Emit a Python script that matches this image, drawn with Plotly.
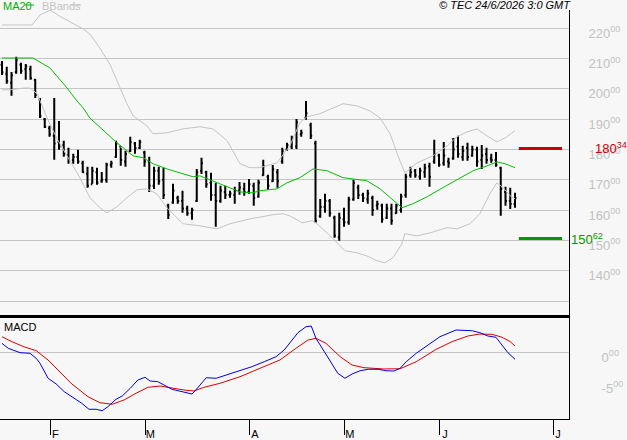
import plotly.graph_objects as go

# ---------------- data ----------------
opens = [208.0, 205.0, 202.0, 205.5, 208.0, 206.5, 206.5, 203.0, 196.5, 190.0,
         187.0, 184.5, 182.5, 181.5, 178.0, 176.5, 177.5, 175.5, 172.0, 168.5,
         172.5, 169.5, 170.0, 175.0, 177.5, 181.0, 176.0, 179.5, 182.0, 180.5,
         179.0, 176.0, 168.0, 173.0, 170.0, 161.5, 162.5, 164.0, 163.0, 160.5,
         159.0, 163.0, 173.0, 172.5, 169.0, 165.0, 163.0, 166.0, 165.0, 165.0,
         166.5, 167.0, 166.0, 168.0, 164.5, 171.5, 171.0, 169.5, 172.5, 176.0,
         180.0, 181.0, 181.0, 185.0, 190.5, 188.0, 182.0, 158.0, 161.0, 163.0,
         157.5, 151.0, 157.0, 156.0, 163.5, 167.5, 165.0, 163.5, 164.0, 161.5,
         161.5, 157.5, 160.5, 159.0, 160.0, 165.0, 171.5, 173.0, 171.0, 172.5,
         174.5, 176.0, 178.0, 175.5, 176.0, 177.0, 181.0, 177.5, 180.5, 178.0,
         180.0, 176.5, 178.5, 177.0, 176.5, 174.0, 166.0, 163.0, 162.0]
highs = [209.2, 207.3, 205.6, 210.6, 208.6, 208.2, 207.6, 203.3, 197.0, 190.4,
         187.8, 197.0, 189.4, 182.9, 180.6, 178.6, 179.9, 176.3, 174.3, 174.3,
         174.0, 172.6, 175.6, 176.3, 182.9, 180.6, 179.6, 184.2, 182.5, 183.2,
         179.6, 177.6, 174.3, 174.3, 174.0, 162.1, 168.7, 164.7, 166.4, 161.4,
         160.8, 173.6, 177.3, 173.0, 172.3, 169.0, 168.0, 168.0, 166.4, 167.7,
         169.3, 169.0, 170.3, 169.0, 170.0, 176.6, 171.7, 174.9, 173.6, 180.6,
         182.2, 184.5, 190.1, 186.5, 196.0, 188.8, 182.9, 163.7, 165.4, 163.7,
         158.1, 159.1, 160.8, 164.4, 170.0, 168.4, 165.7, 166.7, 164.7, 163.1,
         162.1, 162.1, 162.1, 162.1, 165.4, 172.0, 174.3, 173.6, 174.0, 175.3,
         175.6, 183.2, 178.6, 182.5, 177.3, 183.8, 184.5, 181.2, 182.2, 181.2,
         180.9, 181.5, 180.6, 178.6, 179.2, 174.3, 167.7, 167.4, 165.7]
lows = [204.6, 201.7, 197.7, 205.0, 205.0, 203.0, 203.0, 197.0, 190.4, 187.1,
        184.2, 176.6, 179.9, 177.6, 175.3, 175.3, 175.3, 172.3, 167.4, 168.7,
        168.4, 169.0, 169.0, 174.0, 177.3, 174.6, 174.3, 179.2, 178.6, 180.2,
        174.3, 166.0, 167.0, 168.4, 163.7, 157.1, 162.1, 162.1, 159.1, 158.1,
        156.8, 162.7, 171.9, 167.4, 163.1, 154.5, 162.4, 163.7, 164.1, 162.1,
        165.1, 164.7, 165.4, 161.4, 164.1, 171.3, 166.7, 169.3, 167.4, 175.3,
        179.6, 180.2, 180.2, 184.2, 189.8, 183.5, 155.8, 157.5, 159.1, 157.8,
        150.9, 149.9, 154.5, 155.2, 163.1, 163.7, 162.7, 162.1, 158.1, 160.1,
        155.8, 157.1, 155.2, 158.8, 159.1, 164.1, 170.7, 170.7, 170.0, 170.7,
        167.7, 175.3, 174.3, 174.6, 174.0, 176.6, 177.3, 176.3, 176.3, 177.6,
        174.3, 173.6, 175.3, 175.6, 174.3, 158.1, 161.4, 160.4, 160.8]
closes = [205.5, 202.5, 204.5, 209.5, 206.0, 207.5, 203.5, 198.0, 191.0, 187.5,
          185.0, 182.0, 181.0, 178.5, 176.5, 177.5, 176.0, 172.5, 168.0, 173.0,
          169.0, 170.0, 175.0, 175.5, 182.0, 176.5, 178.5, 182.5, 180.5, 182.5,
          176.0, 168.0, 173.0, 169.5, 165.0, 158.5, 166.5, 163.0, 160.5, 159.0,
          160.0, 172.5, 175.5, 168.5, 165.0, 163.0, 166.5, 165.0, 165.5, 166.5,
          167.5, 166.0, 168.5, 164.0, 169.0, 174.5, 168.0, 173.5, 169.5, 179.5,
          181.5, 183.5, 189.0, 185.5, 192.0, 184.5, 156.5, 161.0, 163.0, 159.0,
          151.5, 157.5, 156.0, 163.5, 169.0, 165.0, 164.0, 165.5, 160.0, 162.0,
          157.0, 160.5, 156.5, 161.5, 164.5, 171.0, 172.5, 171.5, 173.0, 174.0,
          171.0, 178.5, 175.0, 178.0, 175.5, 180.0, 178.5, 179.5, 177.5, 180.0,
          176.0, 178.0, 176.5, 176.5, 175.0, 167.0, 163.0, 162.0, 164.0]
bar_idx = list(range(len(opens)))

# month starts on the trading-day axis
month_pos = [10.2, 30.2, 52.2, 72.2, 92.2, 116.0]
month_labels = ["F", "M", "A", "M", "J", "J"]

# MA20 (read at trading-day positions)
ma20_x = [0, 6.5, 10.1, 13.7, 15.8, 17.1, 18.5, 22.7, 24.2, 26.3, 27.6, 29.7, 31.8, 34.7,
          37.5, 40.2, 41.7, 43.8, 47.4, 50.1, 52.8, 54.3, 57.9, 60.0, 62.7, 65.5, 66.9,
          68.4, 71.8, 76.8, 79.6, 81.7, 84.2, 86.5, 89.5, 92.8, 96.4, 99.2, 102.1, 104.2,
          105.9, 108]
ma20_y = [210.2, 210.2, 206.9, 200.3, 196.0, 193.7, 190.4, 184.5, 182.2, 179.6, 177.9,
          177.3, 175.3, 173.6, 172.3, 171.0, 171.3, 170.0, 167.7, 166.0, 165.7, 166.4,
          167.0, 169.0, 170.7, 173.6, 173.3, 173.0, 170.7, 169.7, 167.0, 164.1, 160.8,
          162.1, 164.4, 167.4, 170.7, 173.0, 174.6, 175.9, 175.3, 174.0]

# Bollinger bands
bbu_x = [0, 6.3, 8.0, 10.1, 12.8, 17.1, 18.5, 20.6, 22.7, 24.8, 26.3, 27.6, 30.5, 31.8,
         34.7, 38.1, 41.7, 44.4, 47.4, 50.1, 52.2, 54.3, 57.9, 60.6, 62.7, 64.2, 66.9,
         69.7, 71.8, 74.7, 77.5, 79.6, 81.7, 83.2, 84.8, 87.4, 90.7, 93.7, 95.8, 97.9,
         100.0, 102.1, 104.2, 105.9, 108]
bbu_y = [221.1, 221.1, 224.4, 226.0, 223.4, 219.8, 218.1, 213.5, 208.2, 200.3, 195.1,
         191.1, 187.8, 185.2, 185.5, 186.8, 187.5, 186.8, 182.9, 175.3, 174.0, 174.0,
         175.6, 181.2, 188.8, 190.8, 191.8, 193.7, 195.1, 194.4, 192.7, 190.4, 185.2,
         178.6, 172.3, 175.6, 177.9, 181.2, 184.2, 185.8, 186.8, 184.5, 182.5, 183.8, 186.2]
bbl_x = [0, 1.7, 4.8, 5.9, 7.4, 9.5, 11.6, 14.3, 16.4, 18.5, 20.6, 22.1, 24.2, 26.3,
         28.4, 30.5, 32.6, 34.7, 38.1, 41.7, 45.3, 48.0, 52.2, 57.1, 59.2, 60.6, 63.2,
         65.3, 66.3, 69.1, 72.2, 74.7, 76.8, 78.9, 80.6, 82.3, 84.2, 84.8, 87.4, 90.1,
         93.7, 95.8, 98.5, 100.6, 102.7, 104.2, 105.5, 107.0, 108]
bbl_y = [199.7, 199.7, 200.3, 200.3, 198.4, 190.4, 183.5, 176.3, 170.7, 164.1, 160.8,
         159.1, 161.1, 164.1, 166.7, 167.0, 165.4, 160.8, 155.5, 154.8, 153.8, 155.5,
         157.1, 158.5, 158.8, 158.1, 155.8, 156.5, 155.5, 151.5, 146.6, 145.9, 144.9,
         143.3, 142.6, 144.3, 148.9, 152.2, 151.5, 152.5, 154.2, 153.8, 155.5, 158.8,
         165.4, 169.0, 167.4, 164.7, 163.7]

# MACD and signal
macd_x = [0, 1.3, 3.8, 5.9, 7.2, 8.0, 9.7, 11.4, 13.1, 15.2, 16.8, 18.3, 19.8, 21.1, 22.3,
          24.0, 25.3, 27.0, 28.6, 30.1, 31.2, 32.8, 34.1, 35.8, 37.9, 40.0, 40.8, 43.0,
          45.1, 48.0, 50.1, 52.6, 55.2, 57.7, 59.4, 60.6, 62.3, 64.0, 65.1, 66.1, 67.8,
          69.5, 70.7, 72.2, 73.7, 75.4, 77.1, 79.2, 80.8, 82.5, 83.8, 85.1, 87.2, 89.7,
          92.2, 95.6, 99.0, 100.6, 102.3, 104.0, 105.3, 106.5, 108]
macd_y = [1.45, 0.65, -0.06, -0.16, -0.97, -1.77, -4.19, -5.11, -6.35, -7.42, -8.23,
          -9.19, -9.19, -9.42, -8.77, -7.58, -7.05, -5.81, -4.47, -4.03, -4.63, -4.74,
          -5.27, -5.97, -6.35, -6.73, -6.08, -4.10, -4.19, -3.50, -2.97, -2.32, -1.52,
          -0.71, 0.37, 1.55, 3.16, 4.13, 4.24, 2.26, 0.10, -2.05, -3.39, -4.19, -3.50,
          -2.97, -2.74, -2.74, -2.97, -3.02, -2.58, -1.52, -0.16, 1.18, 2.52, 3.60, 3.48,
          3.16, 2.63, 2.42, 1.18, -0.06, -1.13]
sig_x = [0, 2.1, 4.6, 7.2, 9.7, 12.2, 14.7, 18.1, 20.6, 23.2, 25.7, 28.2, 30.7, 33.3,
         35.8, 38.3, 40.4, 42.5, 45.9, 50.1, 54.3, 58.5, 61.9, 64.4, 66.1, 68.2, 71.2,
         73.7, 76.2, 80.4, 83.8, 87.2, 91.4, 94.7, 98.1, 100.6, 103.2, 105.3, 107.0, 108]
sig_y = [2.52, 1.71, 0.90, 0.26, -1.24, -3.13, -5.11, -7.16, -8.13, -8.39, -7.69, -6.61,
         -5.65, -5.44, -5.81, -6.08, -6.24, -5.65, -5.00, -3.94, -2.58, -1.24, 0.65, 1.98,
         2.26, 1.45, -0.71, -2.05, -2.48, -2.69, -2.65, -1.52, 0.48, 1.71, 2.63, 2.95,
         2.90, 2.42, 1.71, 1.02]

resistance = 180.34
support = 150.62

price_ticks = [130, 140, 150, 160, 170, 180, 190, 200, 210, 220]
macd_ticks = [0, -5]

# ---------------- layout constants ----------------
W, H = 627, 440
BG = "#f7f7f7"
GRID = "#c6c6c6"
LBL = "#c2c2c2"
FONT = "Liberation Sans, Arial, sans-serif"
XR = 569 / W


def py(p):  # pixel row -> paper y
    return 1 - p / H


def px(p):
    return p / W


fig = go.Figure()

fig.add_trace(go.Scatter(x=bbu_x, y=bbu_y, mode="lines", line=dict(color="#c4c4c4", width=1),
                         xaxis="x", yaxis="y", hoverinfo="skip"))
fig.add_trace(go.Scatter(x=bbl_x, y=bbl_y, mode="lines", line=dict(color="#c4c4c4", width=1),
                         xaxis="x", yaxis="y", hoverinfo="skip"))
fig.add_trace(go.Scatter(x=ma20_x, y=ma20_y, mode="lines", line=dict(color="#00c000", width=1),
                         xaxis="x", yaxis="y"))
fig.add_trace(go.Ohlc(x=bar_idx, open=opens, high=highs, low=lows, close=closes,
                      increasing=dict(line=dict(color="black", width=2)),
                      decreasing=dict(line=dict(color="black", width=2)),
                      tickwidth=0.3, xaxis="x", yaxis="y"))
fig.add_trace(go.Scatter(x=sig_x, y=sig_y, mode="lines", line=dict(color="#dd0000", width=1),
                         xaxis="x2", yaxis="y2"))
fig.add_trace(go.Scatter(x=macd_x, y=macd_y, mode="lines", line=dict(color="#0000dd", width=1),
                         xaxis="x2", yaxis="y2"))

xrange = [-2 / 4.75, (569 - 2) / 4.75]


def fmt(v):
    whole = int(v)
    frac = int(round((abs(v) - abs(whole)) * 100))
    return f"{whole}<sup>{frac:02d}</sup>"


price_text = ["" if v == 130 else f"{v}<sup>00</sup>" for v in price_ticks]
macd_text = [f"{v}<sup>00</sup>" for v in macd_ticks]

fig.update_layout(
    width=W, height=H,
    margin=dict(l=0, r=0, t=0, b=0),
    paper_bgcolor=BG, plot_bgcolor=BG,
    showlegend=False,
    font=dict(family=FONT, size=11, color="black"),
    xaxis=dict(domain=[0, XR], range=xrange, anchor="y", showgrid=False, zeroline=False,
               showticklabels=False, ticks="", showline=True, linecolor="black", linewidth=3,
               rangeslider=dict(visible=False)),
    yaxis=dict(domain=[py(315), py(10)], range=[125.38, 226.04], side="right", anchor="x",
               tickvals=price_ticks, ticktext=price_text, showgrid=True, gridcolor=GRID,
               gridwidth=1, zeroline=False, showline=True, linecolor="black", linewidth=1,
               ticks="", ticklabelstandoff=16, ticklabelshift=5,
               tickfont=dict(size=13, color=LBL, family=FONT)),
    xaxis2=dict(domain=[0, XR], range=xrange, anchor="y2", showgrid=False, zeroline=False,
                tickvals=month_pos, ticktext=month_labels, ticks="outside", ticklen=15,
                tickcolor="black", tickwidth=1, showline=True, linecolor="black", linewidth=1,
                ticklabelshift=5, ticklabelstandoff=-10,
                tickfont=dict(size=11, color="black", family=FONT)),
    yaxis2=dict(domain=[py(419), py(315)], range=[-10.76, 6.02], side="right", anchor="x2",
                tickvals=macd_ticks, ticktext=macd_text, showgrid=False, zeroline=True,
                zerolinecolor=GRID, zerolinewidth=1, showline=True, linecolor="black",
                linewidth=1, ticks="", ticklabelstandoff=29, ticklabelshift=5,
                tickfont=dict(size=13, color=LBL, family=FONT)),
)

# key levels
lvl_x0, lvl_x1 = 108.8, 117.9
fig.add_shape(type="line", xref="x", yref="y", x0=lvl_x0, x1=lvl_x1, y0=resistance, y1=resistance,
              line=dict(color="#cc0000", width=3))
fig.add_shape(type="line", xref="x", yref="y", x0=lvl_x0, x1=lvl_x1, y0=support, y1=support,
              line=dict(color="#009900", width=3))
fig.add_annotation(xref="paper", yref="y", x=px(593), y=resistance, text=fmt(resistance),
                   showarrow=False, xanchor="left", yanchor="middle",
                   font=dict(size=13, color="#cc0000", family=FONT))
fig.add_annotation(xref="paper", yref="y", x=px(569), y=support, text=fmt(support),
                   showarrow=False, xanchor="left", yanchor="middle",
                   font=dict(size=13, color="#009900", family=FONT))

# legend-like header
fig.add_annotation(xref="paper", yref="paper", x=px(1), y=py(6), text="MA20", showarrow=False,
                   xanchor="left", yanchor="middle", font=dict(size=11, color="#00b000", family=FONT))
fig.add_shape(type="line", xref="paper", yref="paper", x0=px(25), x1=px(34), y0=py(5), y1=py(5),
              line=dict(color="#00c000", width=1))
fig.add_annotation(xref="paper", yref="paper", x=px(40), y=py(6), text="BBands", showarrow=False,
                   xanchor="left", yanchor="middle", font=dict(size=11, color="#c4c4c4", family=FONT))
fig.add_shape(type="line", xref="paper", yref="paper", x0=px(71), x1=px(81), y0=py(5), y1=py(5),
              line=dict(color="#c4c4c4", width=1))
fig.add_annotation(xref="paper", yref="paper", x=px(573), y=py(5),
                   text="<i>© TEC 24/6/2026 3:0 GMT</i>", showarrow=False,
                   xanchor="right", yanchor="middle", font=dict(size=11, color="black", family=FONT))
fig.add_annotation(xref="paper", yref="paper", x=px(2), y=py(327), text="MACD", showarrow=False,
                   xanchor="left", yanchor="middle", font=dict(size=11, color="black", family=FONT))

fig.write_html("out.html")
